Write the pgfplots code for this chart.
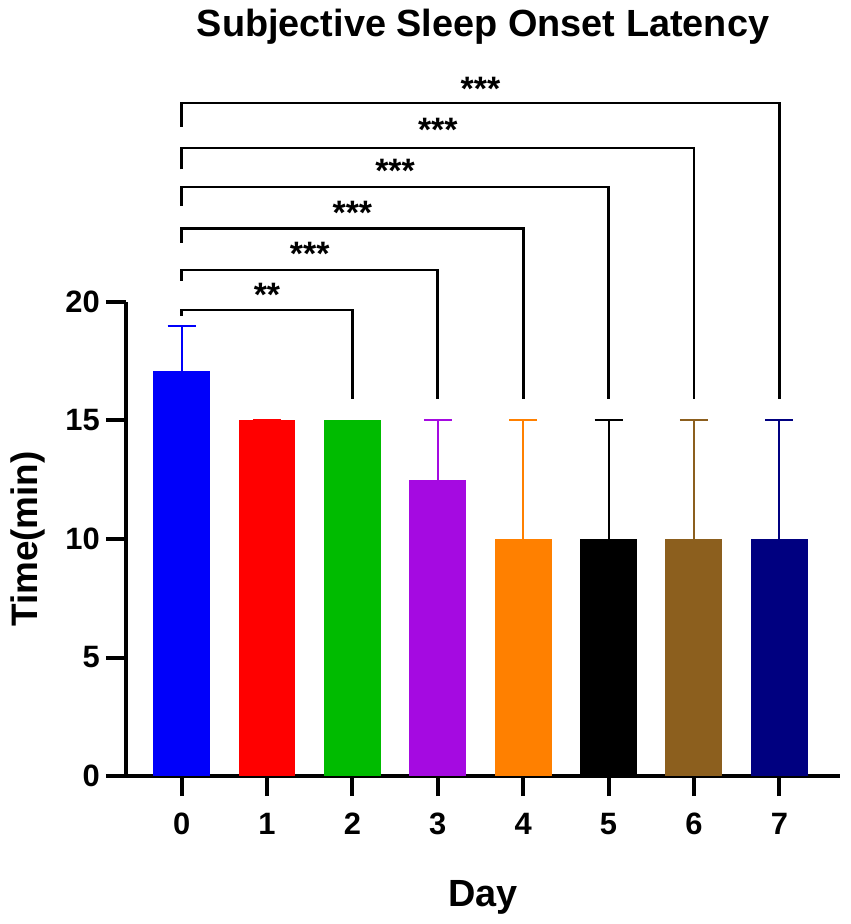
\documentclass[border=0pt]{standalone}
\usepackage{fontspec}
\setmainfont{Liberation Sans}
\usepackage{pgfplots}
\pgfplotsset{compat=1.18}
\definecolor{c0}{RGB}{0,0,250}
\definecolor{c1}{RGB}{255,0,0}
\definecolor{c2}{RGB}{0,187,0}
\definecolor{c3}{RGB}{165,10,225}
\definecolor{c4}{RGB}{255,128,0}
\definecolor{c5}{RGB}{0,0,0}
\definecolor{c6}{RGB}{140,95,30}
\definecolor{c7}{RGB}{0,0,128}
\pgfplotsset{
  mybar/.style={ybar, bar shift=0pt, bar width=0.667, fill=#1, draw=none,
    error bars/.cd, y dir=plus, y explicit, error mark=-,
    error bar style={#1, line width=2bp},
    error mark options={rotate=90, #1, line width=2bp, mark size=14bp}},
}
\begin{document}
\begin{tikzpicture}
\begin{axis}[
  scale only axis, width=714bp, height=474bp,
  xmin=-0.651, xmax=7.71, ymin=0, ymax=20,
  axis x line*=bottom, axis y line*=left,
  axis line style={line width=4bp, black},
  xtick={0,1,2,3,4,5,6,7}, ytick={0,5,10,15,20},
  tick align=outside, major tick length=20bp,
  tick style={line width=4bp, black},
  /pgf/number format/assume math mode=true,
  tick label style={font=\fontsize{31}{31}\selectfont\bfseries},
  xticklabel style={anchor=north, inner sep=0pt, yshift=-17bp},
  yticklabel style={anchor=east, inner sep=0pt, xshift=-6bp},
  title={Subjective Sleep Onset Latency},
  title style={font=\fontsize{38}{40}\selectfont\bfseries, at={(axis description cs:0.5,1.548)}, anchor=base, inner sep=0pt},
  xlabel={Day},
  xlabel style={font=\fontsize{38}{40}\selectfont\bfseries, at={(axis description cs:0.5,-0.2757)}, anchor=base, inner sep=0pt},
  ylabel={Time(min)},
  ylabel style={font=\fontsize{37}{40}\selectfont\bfseries, at={(axis description cs:-0.1246,0.5)}, anchor=base, inner sep=0pt},
  clip=false,
]
% bars
\addplot[mybar=c0] coordinates {(0,17.1) +- (0,1.9)};
\addplot[mybar=c1] coordinates {(1,15) +- (0,0)};
\addplot[mybar=c2] coordinates {(2,15)};
\addplot[mybar=c3] coordinates {(3,12.5) +- (0,2.5)};
\addplot[mybar=c4] coordinates {(4,10) +- (0,5)};
\addplot[mybar=c5] coordinates {(5,10) +- (0,5)};
\addplot[mybar=c6] coordinates {(6,10) +- (0,5)};
\addplot[mybar=c7] coordinates {(7,10) +- (0,5)};
% significance brackets
\addplot[black, line width=2.8bp, no marks] coordinates {(0,19.40) (0,19.66) (2,19.66) (2,15.9)};
\addplot[black, line width=2.8bp, no marks] coordinates {(0,20.90) (0,21.35) (3,21.35) (3,15.9)};
\addplot[black, line width=2.8bp, no marks] coordinates {(0,22.50) (0,23.10) (4,23.10) (4,15.9)};
\addplot[black, line width=2.8bp, no marks] coordinates {(0,24.05) (0,24.85) (5,24.85) (5,15.9)};
\addplot[black, line width=2.8bp, no marks] coordinates {(0,25.60) (0,26.50) (6,26.50) (6,15.9)};
\addplot[black, line width=2.8bp, no marks] coordinates {(0,27.40) (0,28.40) (7,28.40) (7,15.9)};
% stars
\begin{scope}[every node/.style={font=\fontsize{34}{34}\selectfont\bfseries, anchor=base, inner sep=0pt}]
\node at (axis cs:1,19.83) {**};
\node at (axis cs:1.5,21.54) {***};
\node at (axis cs:2,23.27) {***};
\node at (axis cs:2.5,25.03) {***};
\node at (axis cs:3,26.76) {***};
\node at (axis cs:3.5,28.52) {***};
\end{scope}
\end{axis}
\pgfresetboundingbox
\path[use as bounding box] (current axis.south west) ++(-126bp,-148bp) rectangle ++(851bp,924bp);
\end{tikzpicture}
\end{document}
